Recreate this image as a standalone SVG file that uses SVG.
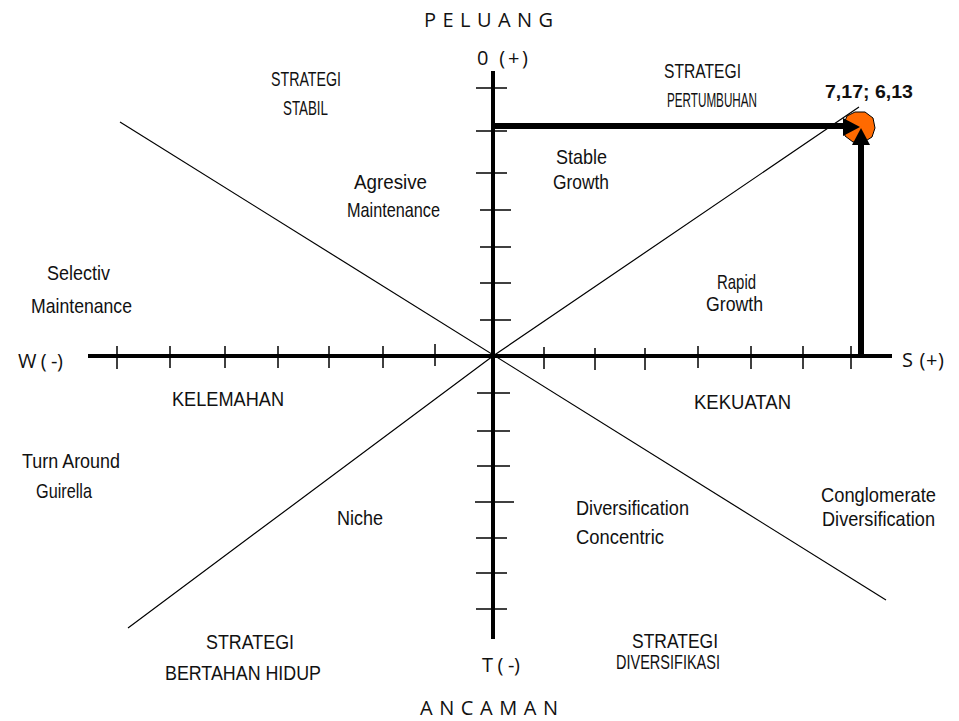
<svg xmlns="http://www.w3.org/2000/svg" width="959" height="721" viewBox="0 0 959 721">
<style>
.lbl{font-family:"Liberation Sans",Arial,sans-serif;font-size:21px;fill:#111}
.ax{font-family:"Open Sans","DejaVu Sans",sans-serif;font-size:20px;fill:#111}
.tick{stroke:#000;stroke-width:1.5}
.thin{stroke:#000;stroke-width:1.2;fill:none}
.bold{stroke:#000;stroke-width:6}
</style>
<rect width="959" height="721" fill="#fff"/>
<g id="connectors">
  <line class="thin" x1="120" y1="122" x2="886" y2="600"/>
  <polyline class="thin" points="128,628 493,356 859,107"/>
  <line x1="88" y1="356" x2="892" y2="356" stroke="#000" stroke-width="4"/>
  <line x1="493" y1="71" x2="493" y2="639" stroke="#000" stroke-width="4"/>
  <g id="ticks-h">
    <line class="tick" x1="117" y1="346" x2="117" y2="369"/>
    <line class="tick" x1="170" y1="346" x2="170" y2="368"/>
    <line class="tick" x1="225" y1="346" x2="225" y2="368"/>
    <line class="tick" x1="278" y1="346" x2="278" y2="368"/>
    <line class="tick" x1="329" y1="346" x2="329" y2="368"/>
    <line class="tick" x1="383" y1="346" x2="383" y2="368"/>
    <line class="tick" x1="435" y1="344" x2="435" y2="366"/>
    <line class="tick" x1="544" y1="347" x2="544" y2="369"/>
    <line class="tick" x1="595" y1="348" x2="595" y2="370"/>
    <line class="tick" x1="645" y1="348" x2="645" y2="370"/>
    <line class="tick" x1="698" y1="346" x2="698" y2="368"/>
    <line class="tick" x1="751" y1="346" x2="751" y2="369"/>
    <line class="tick" x1="803" y1="346" x2="803" y2="369"/>
    <line class="tick" x1="851" y1="346" x2="851" y2="369"/>
  </g>
  <g id="ticks-v">
    <line class="tick" x1="476" y1="88" x2="507" y2="88"/>
    <line class="tick" x1="476" y1="131" x2="507" y2="131"/>
    <line class="tick" x1="476" y1="173" x2="507" y2="173"/>
    <line class="tick" x1="480" y1="210" x2="511" y2="210"/>
    <line class="tick" x1="480" y1="247" x2="511" y2="247"/>
    <line class="tick" x1="480" y1="283" x2="511" y2="283"/>
    <line class="tick" x1="480" y1="320" x2="511" y2="320"/>
    <line class="tick" x1="477" y1="393" x2="510" y2="393"/>
    <line class="tick" x1="477" y1="431" x2="510" y2="431"/>
    <line class="tick" x1="477" y1="466" x2="510" y2="466"/>
    <line class="tick" x1="475" y1="502" x2="514" y2="502"/>
    <line class="tick" x1="476" y1="538" x2="507" y2="538"/>
    <line class="tick" x1="476" y1="573" x2="507" y2="573"/>
    <line class="tick" x1="476" y1="609" x2="507" y2="609"/>
  </g>
</g>
<g id="point">
  <polygon points="865,112 873,118 875,128 872,137 864,142 853,142 845,136 843,126 847,116 855,112" fill="#ff6a00" stroke="#000" stroke-width="1"/>
</g>
<g id="arrows">
  <line class="bold" x1="493" y1="126" x2="846" y2="126"/>
  <polygon points="860,127 843,118 843,136" fill="#000"/>
  <line class="bold" x1="861" y1="356" x2="861" y2="143"/>
  <polygon points="861,128 852,145 870,145" fill="#000"/>
</g>
<g id="axis-labels">
  <text class="ax" x="424" y="27" textLength="129" lengthAdjust="spacing">P E L U A N G</text>
  <text class="ax" x="477" y="65" textLength="51" lengthAdjust="spacing">0 (+)</text>
  <text class="ax" x="18" y="368" textLength="45" lengthAdjust="spacing">W ( -)</text>
  <text class="ax" x="902" y="367" textLength="42" lengthAdjust="spacing">S (+)</text>
  <text class="ax" x="482" y="672" textLength="38" lengthAdjust="spacing">T ( -)</text>
  <text class="ax" x="420" y="715" textLength="138" lengthAdjust="spacing">A N C A M A N</text>
</g>
<g id="value">
  <text x="825" y="98" font-family="'Liberation Sans',Arial,sans-serif" font-size="19" font-weight="bold" fill="#111" textLength="88" lengthAdjust="spacingAndGlyphs">7,17; 6,13</text>
</g>
<g id="q1-labels">
  <text class="lbl" x="271" y="86" font-size="17" textLength="70" lengthAdjust="spacingAndGlyphs">STRATEGI</text>
  <text class="lbl" x="283" y="115" font-size="17" textLength="45" lengthAdjust="spacingAndGlyphs">STABIL</text>
  <text class="lbl" x="664" y="78" font-size="18" textLength="77" lengthAdjust="spacingAndGlyphs">STRATEGI</text>
  <text class="lbl" x="667" y="107" font-size="17" textLength="90" lengthAdjust="spacingAndGlyphs">PERTUMBUHAN</text>
  <text class="lbl" x="556" y="164" textLength="51" lengthAdjust="spacingAndGlyphs">Stable</text>
  <text class="lbl" x="553" y="189" textLength="56" lengthAdjust="spacingAndGlyphs">Growth</text>
  <text class="lbl" x="354" y="189" textLength="73" lengthAdjust="spacingAndGlyphs">Agresive</text>
  <text class="lbl" x="347" y="217" textLength="93" lengthAdjust="spacingAndGlyphs">Maintenance</text>
  <text class="lbl" x="47" y="280" textLength="63" lengthAdjust="spacingAndGlyphs">Selectiv</text>
  <text class="lbl" x="31" y="313" textLength="101" lengthAdjust="spacingAndGlyphs">Maintenance</text>
  <text class="lbl" x="717" y="289" font-size="18" textLength="39" lengthAdjust="spacingAndGlyphs">Rapid</text>
  <text class="lbl" x="706" y="311" font-size="20" textLength="57" lengthAdjust="spacingAndGlyphs">Growth</text>
</g>
<g id="q-mid-labels">
  <text class="lbl" x="172" y="406" textLength="112" lengthAdjust="spacingAndGlyphs">KELEMAHAN</text>
  <text class="lbl" x="694" y="409" textLength="97" lengthAdjust="spacingAndGlyphs">KEKUATAN</text>
</g>
<g id="q3-labels">
  <text class="lbl" x="22" y="468" textLength="98" lengthAdjust="spacingAndGlyphs">Turn Around</text>
  <text class="lbl" x="36" y="498" textLength="56" lengthAdjust="spacingAndGlyphs">Guirella</text>
  <text class="lbl" x="337" y="525" textLength="46" lengthAdjust="spacingAndGlyphs">Niche</text>
  <text class="lbl" x="576" y="515" textLength="113" lengthAdjust="spacingAndGlyphs">Diversification</text>
  <text class="lbl" x="576" y="544" textLength="88" lengthAdjust="spacingAndGlyphs">Concentric</text>
  <text class="lbl" x="821" y="502" textLength="115" lengthAdjust="spacingAndGlyphs">Conglomerate</text>
  <text class="lbl" x="822" y="526" textLength="113" lengthAdjust="spacingAndGlyphs">Diversification</text>
  <text class="lbl" x="206" y="649" textLength="88" lengthAdjust="spacingAndGlyphs">STRATEGI</text>
  <text class="lbl" x="165" y="680" textLength="156" lengthAdjust="spacingAndGlyphs">BERTAHAN HIDUP</text>
  <text class="lbl" x="632" y="648" font-size="19" textLength="86" lengthAdjust="spacingAndGlyphs">STRATEGI</text>
  <text class="lbl" x="616" y="669" font-size="18" textLength="104" lengthAdjust="spacingAndGlyphs">DIVERSIFIKASI</text>
</g>
</svg>
